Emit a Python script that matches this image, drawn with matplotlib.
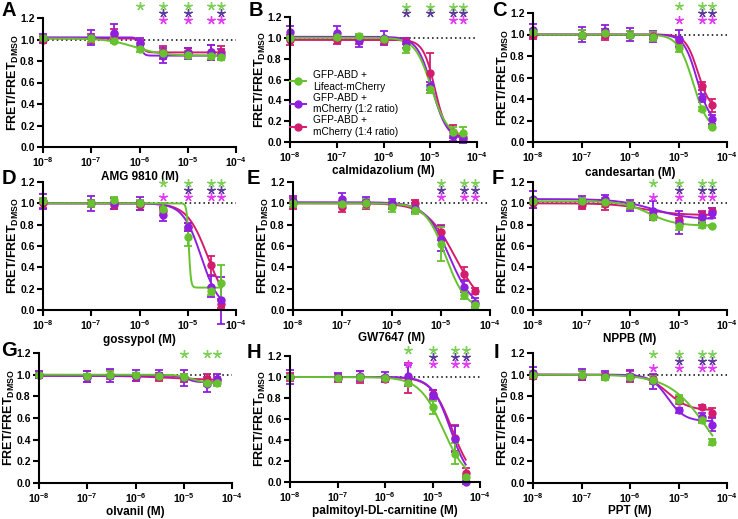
import numpy as np
import matplotlib.pyplot as plt
from matplotlib.lines import Line2D

plt.rcParams['font.family'] = ['Liberation Sans', 'DejaVu Sans']
plt.rcParams['mathtext.fontset'] = 'custom'
plt.rcParams['mathtext.rm'] = 'Liberation Sans'
plt.rcParams['mathtext.bf'] = 'Liberation Sans:bold'

# concentrations (M), same for every drug
conc = np.array([1e-8, 1e-7, 3e-7, 1e-6, 3e-6, 1e-5, 3e-5, 5e-5])

panels = ['A', 'B', 'C', 'D', 'E', 'F', 'G', 'H', 'I']
drugs = ['AMG 9810', 'calmidazolium', 'candesartan', 'gossypol', 'GW7647',
         'NPPB', 'olvanil', 'palmitoyl-DL-carnitine', 'PPT']

series_labels = ['GFP-ABD +\nLifeact-mCherry', 'GFP-ABD +\nmCherry (1:2 ratio)',
                 'GFP-ABD +\nmCherry (1:4 ratio)']

# mean FRET/FRET_DMSO
lifeact_mean = {
    'A': [1.01, 1.01, 0.99, 0.91, 0.87, 0.86, 0.85, 0.84],
    'B': [1.00, 1.01, 1.02, 0.99, 0.90, 0.51, 0.10, 0.09],
    'C': [1.02, 1.00, 1.01, 1.00, 0.98, 0.87, 0.31, 0.14],
    'D': [1.02, 1.00, 1.03, 1.00, 0.95, 0.68, 0.18, 0.25],
    'E': [1.00, 0.99, 1.00, 0.97, 0.94, 0.62, 0.14, 0.05],
    'F': [1.02, 1.02, 1.01, 0.98, 0.87, 0.79, 0.80, 0.79],
    'G': [1.00, 0.99, 1.00, 1.00, 0.99, 0.98, 0.92, 0.92],
    'H': [1.00, 0.99, 1.00, 0.99, 0.94, 0.71, 0.27, 0.05],
    'I': [1.00, 1.00, 0.98, 0.98, 0.95, 0.77, 0.58, 0.38],
}
lifeact_sem = {
    'A': [0.02, 0.03, 0.02, 0.03, 0.03, 0.03, 0.03, 0.03],
    'B': [0.02, 0.03, 0.02, 0.02, 0.05, 0.04, 0.04, 0.05],
    'C': [0.03, 0.04, 0.03, 0.03, 0.04, 0.03, 0.02, 0.01],
    'D': [0.03, 0.03, 0.03, 0.03, 0.05, 0.08, 0.04, 0.17],
    'E': [0.03, 0.02, 0.04, 0.05, 0.04, 0.16, 0.04, 0.03],
    'F': [0.03, 0.03, 0.04, 0.03, 0.02, 0.04, 0.03, 0.01],
    'G': [0.02, 0.02, 0.03, 0.02, 0.02, 0.03, 0.02, 0.02],
    'H': [0.02, 0.02, 0.02, 0.02, 0.02, 0.06, 0.10, 0.02],
    'I': [0.03, 0.03, 0.03, 0.03, 0.04, 0.04, 0.03, 0.03],
}
ratio12_mean = {
    'A': [1.01, 1.02, 1.06, 0.97, 0.85, 0.87, 0.88, 0.86],
    'B': [1.06, 1.05, 0.97, 1.00, 0.95, 0.54, 0.06, 0.03],
    'C': [1.04, 1.00, 1.03, 1.00, 0.98, 0.96, 0.41, 0.21],
    'D': [1.02, 1.00, 1.00, 1.00, 0.89, 0.78, 0.22, 0.09],
    'E': [1.02, 1.04, 1.01, 1.00, 0.96, 0.67, 0.22, 0.07],
    'F': [1.04, 1.02, 1.04, 0.98, 0.93, 0.82, 0.87, 0.91],
    'G': [1.00, 0.98, 0.99, 0.99, 1.00, 0.97, 0.91, 0.96],
    'H': [1.00, 1.00, 1.01, 1.00, 1.01, 0.83, 0.41, 0.00],
    'I': [1.02, 1.00, 0.99, 0.99, 0.94, 0.67, 0.61, 0.54],
}
ratio12_sem = {
    'A': [0.04, 0.07, 0.08, 0.04, 0.07, 0.05, 0.07, 0.05],
    'B': [0.05, 0.06, 0.06, 0.07, 0.05, 0.04, 0.05, 0.04],
    'C': [0.06, 0.07, 0.06, 0.06, 0.05, 0.08, 0.04, 0.04],
    'D': [0.07, 0.07, 0.05, 0.06, 0.06, 0.04, 0.10, 0.22],
    'E': [0.05, 0.06, 0.05, 0.04, 0.04, 0.12, 0.05, 0.04],
    'F': [0.08, 0.05, 0.04, 0.05, 0.09, 0.11, 0.05, 0.05],
    'G': [0.03, 0.05, 0.06, 0.05, 0.04, 0.07, 0.07, 0.05],
    'H': [0.07, 0.04, 0.05, 0.05, 0.10, 0.05, 0.12, 0.02],
    'I': [0.05, 0.05, 0.04, 0.05, 0.07, 0.02, 0.04, 0.06],
}
ratio14_mean = {
    'A': [1.00, 1.01, 1.05, 0.97, 0.88, 0.88, 0.88, 0.88],
    'B': [0.98, 0.98, 0.98, 0.97, 0.97, 0.66, 0.10, 0.05],
    'C': [1.00, 1.00, 1.00, 1.00, 0.99, 0.95, 0.52, 0.34],
    'D': [1.00, 1.00, 0.98, 0.98, 0.93, 0.78, 0.42, 0.06],
    'E': [1.00, 0.97, 0.99, 0.98, 1.00, 0.73, 0.34, 0.18],
    'F': [1.00, 0.98, 0.99, 0.98, 0.88, 0.84, 0.89, 0.93],
    'G': [1.00, 0.98, 1.00, 0.98, 0.98, 0.97, 0.96, 0.95],
    'H': [1.00, 0.99, 1.00, 0.98, 0.99, 0.84, 0.42, 0.09],
    'I': [0.99, 0.99, 0.99, 0.98, 0.96, 0.76, 0.70, 0.65],
}
ratio14_sem = {
    'A': [0.03, 0.04, 0.05, 0.03, 0.06, 0.04, 0.07, 0.06],
    'B': [0.05, 0.04, 0.04, 0.03, 0.03, 0.19, 0.06, 0.03],
    'C': [0.04, 0.04, 0.05, 0.03, 0.03, 0.03, 0.04, 0.06],
    'D': [0.04, 0.03, 0.03, 0.04, 0.04, 0.04, 0.09, 0.04],
    'E': [0.05, 0.05, 0.04, 0.03, 0.03, 0.07, 0.06, 0.03],
    'F': [0.04, 0.03, 0.05, 0.03, 0.03, 0.02, 0.04, 0.03],
    'G': [0.03, 0.05, 0.04, 0.04, 0.04, 0.04, 0.05, 0.03],
    'H': [0.04, 0.04, 0.06, 0.03, 0.14, 0.04, 0.12, 0.04],
    'I': [0.03, 0.04, 0.03, 0.05, 0.04, 0.03, 0.02, 0.04],
}

# fitted dose-response parameters: (top, bottom, EC50, hill slope)
lifeact_fit = {
    'A': (1.01, 0.85, 8e-7, 1.5), 'B': (1.00, 0.05, 1.05e-5, 2.5),
    'C': (1.00, 0.10, 2.0e-5, 2.8), 'D': (1.00, 0.21, 1.05e-5, 20),
    'E': (1.00, 0.00, 1.27e-5, 2.1), 'F': (1.02, 0.79, 2.5e-6, 1.6),
    'G': (1.00, 0.92, 1.5e-5, 3.0), 'H': (1.00, 0.00, 1.68e-5, 1.72),
    'I': (1.00, 0.00, 4.0e-5, 1.1),
}
ratio12_fit = {
    'A': (1.02, 0.85, 1.05e-6, 12), 'B': (1.01, 0.02, 1.1e-5, 2.7),
    'C': (1.00, 0.17, 2.4e-5, 3.2), 'D': (1.00, 0.00, 1.9e-5, 2.3),
    'E': (1.01, 0.00, 1.49e-5, 1.8), 'F': (1.04, 0.85, 3.0e-6, 1.2),
    'G': (0.99, 0.93, 1.2e-5, 5.0), 'H': (1.00, 0.00, 2.4e-5, 2.2),
    'I': (1.00, 0.57, 6.0e-6, 2.5),
}
ratio14_fit = {
    'A': (1.01, 0.88, 1.1e-6, 10), 'B': (0.98, 0.05, 1.25e-5, 3.5),
    'C': (1.00, 0.30, 2.5e-5, 3.5), 'D': (1.00, 0.00, 2.6e-5, 2.0),
    'E': (1.00, 0.00, 1.94e-5, 1.5), 'F': (1.00, 0.89, 2.0e-6, 1.3),
    'G': (0.99, 0.95, 5.0e-6, 1.0), 'H': (1.00, 0.00, 2.6e-5, 2.0),
    'I': (1.00, 0.67, 6.0e-6, 2.0),
}

# significance stars: concentration indices per series (lifeact, 1:2, 1:4)
stars = {
    'A': ([3, 4, 5, 6, 7], [4, 5, 7], [4, 5, 6, 7]),
    'B': ([4, 5, 6, 7], [4, 5, 6, 7], [6, 7]),
    'C': ([5, 6, 7], [6, 7], [5, 6, 7]),
    'D': ([4, 5, 6, 7], [5, 6, 7], [4, 5, 6, 7]),
    'E': ([5, 6, 7], [5, 6, 7], [5, 6, 7]),
    'F': ([4, 5, 6, 7], [5, 6, 7], [4, 5, 6, 7]),
    'G': ([5, 6, 7], [], []),
    'H': ([4, 5, 6, 7], [5, 6, 7], [4, 5, 6, 7]),
    'I': ([4, 5, 6, 7], [5, 6, 7], [4, 5, 6, 7]),
}
star_top = {'A': 1.31, 'B': 1.30, 'C': 1.265, 'D': 1.19, 'E': 1.19,
            'F': 1.19, 'G': 1.19, 'H': 1.255, 'I': 1.19}

colors = ['#66C22E', '#8F1FE0', '#D41C6E']
star_colors = ['#7ED05A', '#5E3C99', '#E23DF5']

# axes boxes in pixels: left, right, top(1.2), bottom(0.0)
W, H = 738, 519
box = {
    'A': (43, 236, 18, 147), 'B': (290, 477, 17, 142), 'C': (533, 727, 13, 142),
    'D': (43, 236, 182, 310), 'E': (293, 490, 182, 310), 'F': (533, 727, 182, 310),
    'G': (39, 232, 353, 483), 'H': (290, 480, 356, 482), 'I': (533, 727, 353, 483),
}
xlab_off = {'A': 30, 'B': 29, 'C': 31, 'D': 30, 'E': 28, 'F': 29,
            'G': 29, 'H': 29, 'I': 28}
letter_pos = {'A': (2, 10), 'B': (249, 10), 'C': (492, 10),
              'D': (2, 178), 'E': (247, 178), 'F': (492, 178),
              'G': (1, 351), 'H': (247, 352), 'I': (494, 352)}


def hill(x, top, bottom, ec50, n):
    return bottom + (top - bottom) / (1 + (x / ec50) ** n)


fig = plt.figure(figsize=(W / 100, H / 100), dpi=100)
xs = np.logspace(-8, np.log10(5e-5), 400)

for p, drug in zip(panels, drugs):
    l, r, t, b = box[p]
    ax = fig.add_axes([l / W, 1 - b / H, (r - l) / W, (b - t) / H])
    ax.set_xscale('log')
    ax.set_xlim(1e-8, 1e-4)
    ax.set_ylim(0, 1.2)
    ax.plot([1e-8, 1e-4], [1, 1], ls=(0, (1, 2)), color='black', lw=1.1)

    means = [lifeact_mean[p], ratio12_mean[p], ratio14_mean[p]]
    sems = [lifeact_sem[p], ratio12_sem[p], ratio14_sem[p]]
    fits = [lifeact_fit[p], ratio12_fit[p], ratio14_fit[p]]
    for i in [2, 1, 0]:
        ax.plot(xs, hill(xs, *fits[i]), color=colors[i], lw=1.4, clip_on=False)
        ax.errorbar(conc, means[i], yerr=sems[i], fmt='o', color=colors[i],
                    ms=5, elinewidth=1.3, capsize=3, capthick=1.3, clip_on=False)

    for i in range(3):
        idx = stars[p][i]
        if idx:
            ax.plot(conc[idx], [star_top[p] - 0.065 * i] * len(idx), ls='none',
                    marker=(5, 2, 0), ms=6, mew=1.0, color=star_colors[i],
                    clip_on=False)

    for s in ['top', 'right']:
        ax.spines[s].set_visible(False)
    for s in ['left', 'bottom']:
        ax.spines[s].set_linewidth(1.5)
    ax.set_xticks([1e-8, 1e-7, 1e-6, 1e-5, 1e-4])
    ax.set_xticklabels([r'$\mathbf{10^{-%d}}$' % k for k in [8, 7, 6, 5, 4]])
    ax.xaxis.set_minor_locator(plt.NullLocator())
    ax.set_yticks(np.arange(0, 1.21, 0.2))
    ax.set_yticklabels(['%.1f' % v for v in np.arange(0, 1.21, 0.2)])
    ax.tick_params(width=1.5, length=4, labelsize=7.5, pad=2)
    for lab in ax.get_yticklabels():
        lab.set_fontweight('bold')

    ax.set_xlabel(drug + ' (M)', fontsize=8.5, fontweight='bold')
    ax.xaxis.set_label_coords(0.5, -xlab_off[p] / (b - t))
    ax.xaxis.label.set_va('center')
    ax.set_ylabel(r'FRET/FRET$_{\mathbf{DMSO}}$', fontsize=9, fontweight='bold')
    ax.yaxis.set_label_coords(-30 / (r - l), 0.5)
    ax.yaxis.label.set_va('center')

    lx, ly = letter_pos[p]
    fig.text(lx / W, 1 - ly / H, p, fontsize=14.5, fontweight='bold',
             ha='left', va='center')

    if p == 'B':
        handles = [Line2D([0], [0], color=c, marker='o', ms=5, lw=1.4) for c in colors]
        ax.legend(handles, series_labels, loc='lower left', bbox_to_anchor=(0.0, 0.04),
                  frameon=False, fontsize=7.3, handlelength=1.6, handletextpad=0.7,
                  labelspacing=0.1, borderpad=0, borderaxespad=0)

fig.savefig('out.png', dpi=100)
